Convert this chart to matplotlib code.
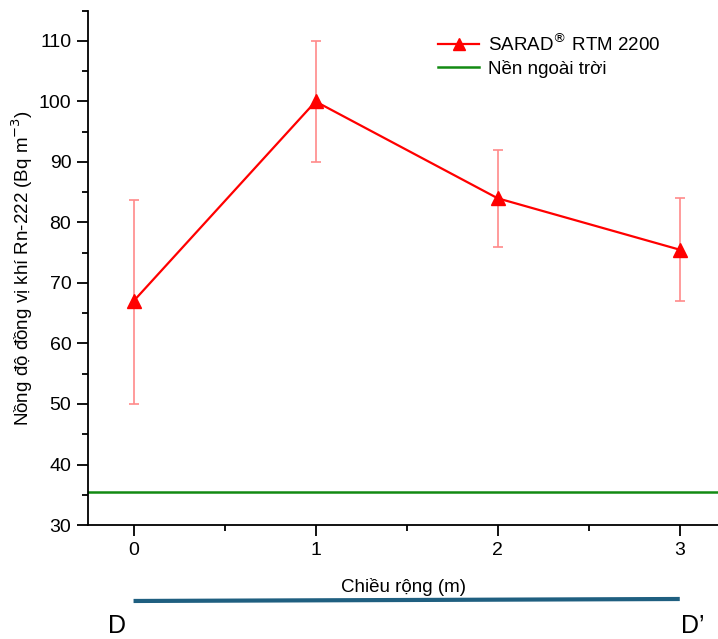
import numpy as np
import matplotlib.pyplot as plt
from matplotlib.ticker import MultipleLocator
import matplotlib.transforms as mtransforms

plt.rcParams['font.family'] = ['Liberation Sans', 'DejaVu Sans']

# Data
width_m = [0, 1, 2, 3]
radon = [67.0, 100.0, 84.0, 75.5]
err_low = [50.0, 90.0, 76.0, 67.0]
err_high = [83.7, 110.0, 92.0, 84.0]
background = 35.5

series_label = 'SARAD$^{®}$ RTM 2200'
background_label = 'Nền ngoài trời'
xlabel = 'Chiều rộng (m)'
ylabel = 'Nồng độ đồng vị khí Rn-222 (Bq m$^{-3}$)'
end_labels = ['D', 'D’']


def main():
  fig = plt.figure(figsize=(7.18, 6.39), dpi=100)
  ax = fig.add_axes([0.1226, 0.1784, 0.8774, 0.8048])

  y = np.array(radon)
  yerr = [y - np.array(err_low), np.array(err_high) - y]

  # Error bars (light red) then the main line
  ax.errorbar(width_m, y, yerr=yerr, fmt='none', ecolor='#ff8a8a',
              elinewidth=1.2, capsize=3.5, capthick=1.2, zorder=2)
  ax.plot(width_m, y, color='red', lw=1.6, marker='^', markersize=10,
          label=series_label, zorder=3)

  # Outdoor background level
  ax.axhline(background, color='#138a13', lw=1.8, label=background_label,
             zorder=1)

  ax.set_xlim(-0.25, 3.21)
  ax.set_ylim(30, 115)
  ax.xaxis.set_major_locator(MultipleLocator(1))
  ax.xaxis.set_minor_locator(MultipleLocator(0.5))
  ax.yaxis.set_minor_locator(MultipleLocator(5))
  ax.set_yticks([30, 40, 50, 60, 70, 80, 90, 100, 110])

  for side in ['top', 'right']:
    ax.spines[side].set_visible(False)
  for side in ['left', 'bottom']:
    ax.spines[side].set_linewidth(1.3)

  ax.tick_params(which='major', direction='out', length=8, width=1.3,
                 labelsize=14, colors='black', pad=4)
  ax.tick_params(which='minor', direction='out', length=4, width=1.3)

  ax.set_xlabel(xlabel, fontsize=13.5, labelpad=14)
  ax.set_ylabel(ylabel, fontsize=13.5, labelpad=3)

  ax.legend(loc='upper right', bbox_to_anchor=(0.935, 0.99),
            frameon=False, fontsize=13.5, handlelength=2.2,
            handletextpad=0.45, labelspacing=0.25, markerscale=0.85)

  # Section line D - D' under the axis, spanning the measured width
  trans = mtransforms.blended_transform_factory(ax.transData, fig.transFigure)
  ax.plot([width_m[0], width_m[-1]], [0.0595, 0.0626], color='#1f5f80',
          lw=3, transform=trans, clip_on=False, solid_capstyle='butt')
  ax.text(width_m[0] - 0.09, 0.01, end_labels[0], transform=trans,
          fontsize=18, ha='center', va='baseline')
  ax.text(width_m[-1] + 0.07, 0.01, end_labels[1], transform=trans,
          fontsize=18, ha='center', va='baseline')

  fig.savefig('out.png', dpi=100)


if __name__ == "__main__":
  main()
